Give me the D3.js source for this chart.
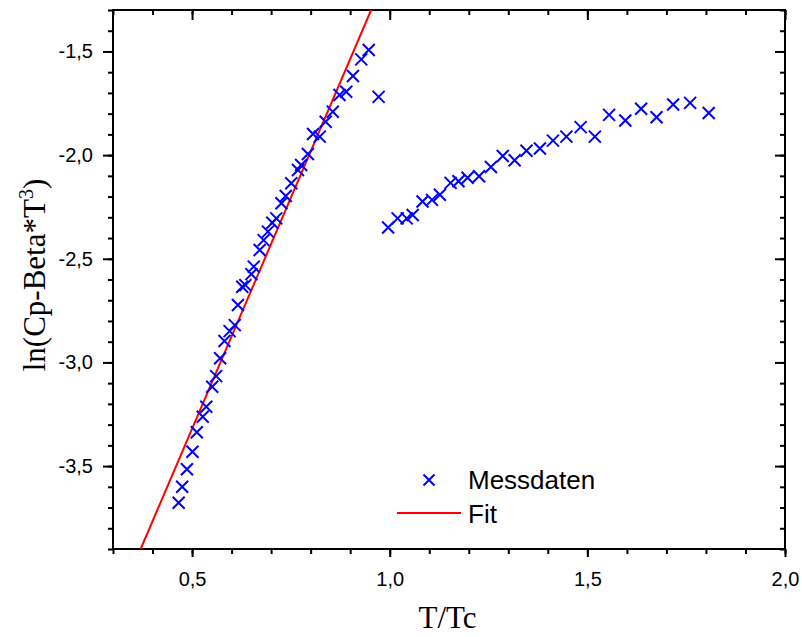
<!DOCTYPE html>
<html>
<head>
<meta charset="utf-8">
<script src="https://cdn.jsdelivr.net/npm/d3@7"></script>
<style>
  body { margin: 0; background: #fff; }
  svg { display: block; }
</style>
</head>
<body>
<div id="chart"></div>
<script>
// Messdaten (T/Tc, ln(Cp - Beta*T^3))
const tRatio = [
  0.466, 0.475, 0.487, 0.501, 0.512, 0.527, 0.536, 0.551, 0.561, 0.571,
  0.582, 0.595, 0.608, 0.616, 0.627, 0.635, 0.650, 0.656, 0.671, 0.681,
  0.692, 0.703, 0.713, 0.726, 0.737, 0.751, 0.768, 0.776, 0.793, 0.806,
  0.823, 0.838, 0.856, 0.873, 0.890, 0.907, 0.928, 0.947, 0.972,
  0.996, 1.020, 1.043, 1.058, 1.083, 1.107, 1.127, 1.154, 1.174, 1.197,
  1.226, 1.256, 1.286, 1.316, 1.346, 1.380, 1.413, 1.447, 1.483, 1.519,
  1.555, 1.596, 1.636, 1.675, 1.717, 1.760, 1.807
];
const lnCp = [
  -3.677, -3.600, -3.515, -3.431, -3.337, -3.262, -3.214, -3.117, -3.066, -2.980,
  -2.897, -2.849, -2.820, -2.723, -2.635, -2.627, -2.574, -2.538, -2.458, -2.410,
  -2.369, -2.326, -2.305, -2.232, -2.197, -2.136, -2.072, -2.048, -1.995, -1.898,
  -1.911, -1.839, -1.791, -1.710, -1.694, -1.618, -1.538, -1.493, -1.719,
  -2.349, -2.305, -2.305, -2.289, -2.224, -2.216, -2.191, -2.134, -2.126, -2.109,
  -2.102, -2.057, -2.004, -2.025, -1.979, -1.968, -1.930, -1.911, -1.865, -1.911,
  -1.806, -1.833, -1.776, -1.817, -1.756, -1.748, -1.797
];

// Fit line end points
const fitX = [0.37, 0.953];
const fitY = [-3.9, -1.3];

// Axis ticks
const xMajorTicks = [0.5, 1.0, 1.5, 2.0];
const yMajorTicks = [-3.5, -3.0, -2.5, -2.0, -1.5];

const outerW = 802, outerH = 637;
const margin = { top: 10, right: 17, bottom: 88, left: 113 };
const width = outerW - margin.left - margin.right;
const height = outerH - margin.top - margin.bottom;

const svg = d3.select('#chart')
  .append('svg')
  .attr('width', outerW)
  .attr('height', outerH)
  .append('g')
  .attr('transform', `translate(${margin.left},${margin.top})`);

const x = d3.scaleLinear().domain([0.3, 2.0]).range([0, width]);
const y = d3.scaleLinear().domain([-3.9, -1.3]).range([height, 0]);

// comma decimal, plain hyphen minus
const locale = d3.formatLocale({ decimal: ',', thousands: '.', grouping: [3], currency: ['', ''], minus: '-' });
const fmt = locale.format('.1f');

const xMinor = d3.range(3, 21).map(d => d / 10);
const yMinor = d3.range(-39, -12).map(d => d / 10);

const tickFont = 'Arial, "Liberation Sans", sans-serif';

function styleAxis(g) {
  g.select('.domain').remove();
  g.selectAll('line').attr('stroke', '#000').attr('stroke-width', 2);
  g.selectAll('text').style('font-family', tickFont).style('font-size', '20px').attr('fill', '#000');
}

// bottom axis: minor + major (outward)
svg.append('g').attr('transform', `translate(0,${height})`)
  .call(d3.axisBottom(x).tickValues(xMinor).tickSize(5).tickFormat(''))
  .call(styleAxis);
svg.append('g').attr('transform', `translate(0,${height})`)
  .call(d3.axisBottom(x).tickValues(xMajorTicks).tickSize(8).tickPadding(15).tickFormat(fmt))
  .call(styleAxis);

// top axis: inward ticks
svg.append('g')
  .call(d3.axisBottom(x).tickValues(xMinor).tickSize(5).tickFormat(''))
  .call(styleAxis);
svg.append('g')
  .call(d3.axisBottom(x).tickValues(xMajorTicks).tickSize(10).tickFormat(''))
  .call(styleAxis);

// left axis: outward
svg.append('g')
  .call(d3.axisLeft(y).tickValues(yMinor).tickSize(5).tickFormat(''))
  .call(styleAxis);
svg.append('g')
  .call(d3.axisLeft(y).tickValues(yMajorTicks).tickSize(10).tickPadding(10).tickFormat(fmt))
  .call(styleAxis);

// right axis: inward
svg.append('g').attr('transform', `translate(${width},0)`)
  .call(d3.axisLeft(y).tickValues(yMinor).tickSize(5).tickFormat(''))
  .call(styleAxis);
svg.append('g').attr('transform', `translate(${width},0)`)
  .call(d3.axisLeft(y).tickValues(yMajorTicks).tickSize(10).tickFormat(''))
  .call(styleAxis);

// frame
svg.append('rect')
  .attr('width', width)
  .attr('height', height)
  .attr('fill', 'none')
  .attr('stroke', '#000')
  .attr('stroke-width', 2);

// clip for the fit line
svg.append('clipPath').attr('id', 'plot-clip')
  .append('rect').attr('width', width).attr('height', height);

const fitData = fitX.map((v, i) => ({ x: v, y: fitY[i] }));
svg.append('path')
  .datum(fitData)
  .attr('clip-path', 'url(#plot-clip)')
  .attr('fill', 'none')
  .attr('stroke', '#ff0000')
  .attr('stroke-width', 2)
  .attr('d', d3.line().x(d => x(d.x)).y(d => y(d.y)));

// cross markers
const cross = (s) => `M${-s},${-s}L${s},${s}M${-s},${s}L${s},${-s}`;
const points = tRatio.map((v, i) => ({ x: v, y: lnCp[i] }));
svg.append('g')
  .selectAll('path')
  .data(points)
  .enter()
  .append('path')
  .attr('transform', d => `translate(${x(d.x)},${y(d.y)})`)
  .attr('d', cross(6))
  .attr('stroke', '#0000ff')
  .attr('stroke-width', 2)
  .attr('fill', 'none');

// legend
const legend = svg.append('g').attr('transform', `translate(${397 - margin.left},${480 - margin.top})`);
legend.append('path')
  .attr('transform', 'translate(32,0)')
  .attr('d', cross(5.5))
  .attr('stroke', '#0000ff')
  .attr('stroke-width', 2);
legend.append('text')
  .attr('x', 71).attr('y', 9)
  .style('font-family', tickFont).style('font-size', '26px')
  .text('Messdaten');
legend.append('line')
  .attr('x1', 0).attr('x2', 64)
  .attr('y1', 33).attr('y2', 33)
  .attr('stroke', '#ff0000').attr('stroke-width', 2);
legend.append('text')
  .attr('x', 71).attr('y', 43)
  .style('font-family', tickFont).style('font-size', '26px')
  .text('Fit');

// axis titles
const titleFont = '"Times New Roman", "Liberation Serif", serif';
svg.append('text')
  .attr('x', (415 + 480) / 2 - margin.left)
  .attr('y', 628 - margin.top)
  .attr('text-anchor', 'middle')
  .style('font-family', titleFont).style('font-size', '31px')
  .text('T/Tc');

const yTitle = svg.append('text')
  .attr('transform', `translate(${-68},${265}) rotate(-90)`)
  .attr('text-anchor', 'middle')
  .style('font-family', titleFont).style('font-size', '31px');
yTitle.append('tspan').text('ln(Cp-Beta*T');
yTitle.append('tspan').attr('dy', -12).style('font-size', '20px').text('3');
yTitle.append('tspan').attr('dy', 12).text(')');
</script>
</body>
</html>
